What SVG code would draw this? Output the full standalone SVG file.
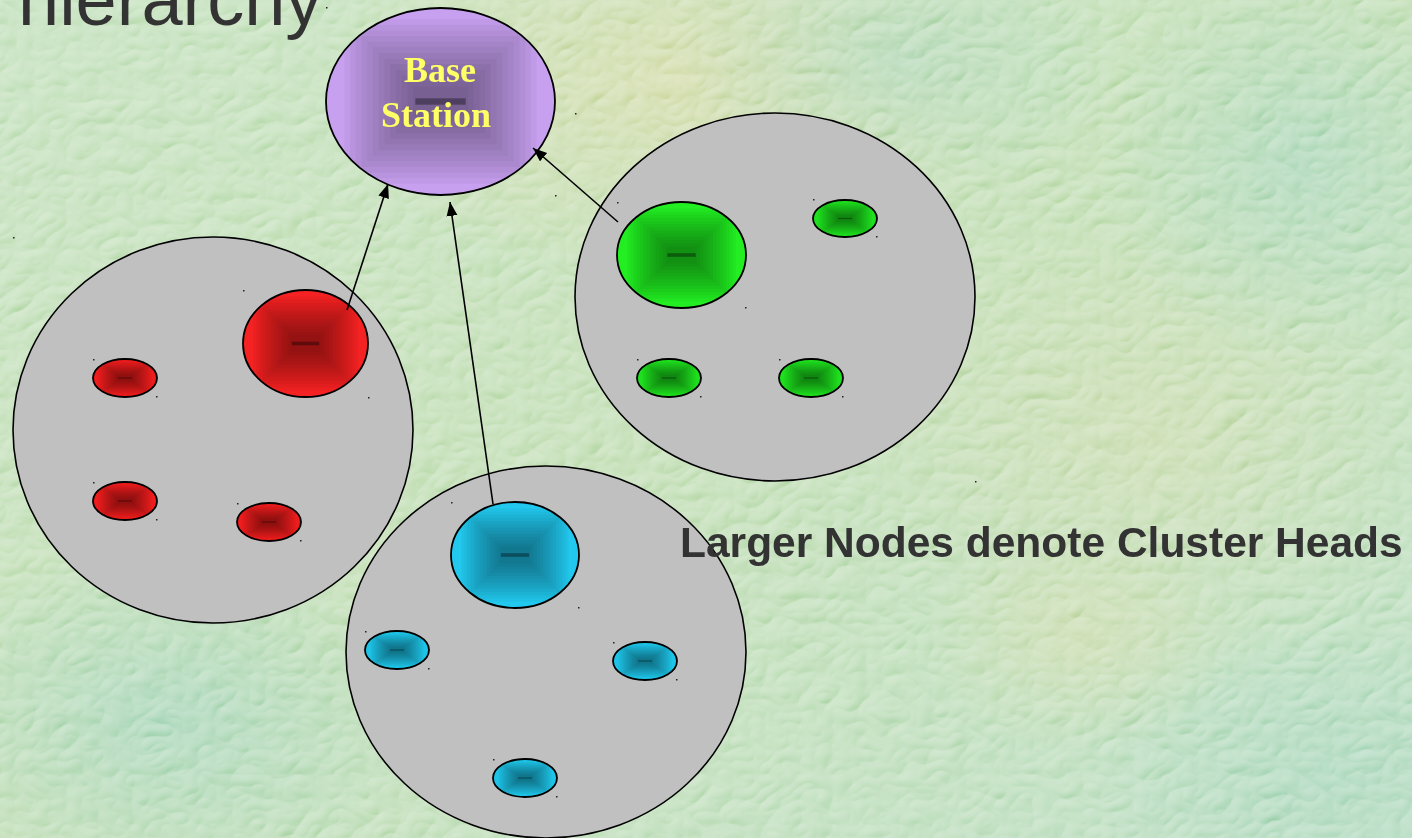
<svg xmlns="http://www.w3.org/2000/svg" xmlns:xlink="http://www.w3.org/1999/xlink" width="1412" height="838" viewBox="0 0 1412 838">
  <defs>
    <style>
      .cluster { fill: #c0c0c0; stroke: #000; stroke-width: 1.6; }
      .outline { fill: none; stroke: #000; stroke-width: 1.8; }
      .link { stroke: #000; stroke-width: 1.6; fill: none; marker-end: url(#arrow); }
      .title { font-family: "Liberation Sans", Arial, sans-serif; font-size: 74px; fill: #333; }
      .bs { font-family: "Liberation Serif", "Times New Roman", serif; font-weight: bold; font-size: 36px; fill: #ffff66; text-anchor: middle; }
      .note { font-family: "Liberation Sans", Arial, sans-serif; font-weight: bold; font-size: 42.5px; fill: #333; }
      .dot { fill: #222; }
    </style>

    <!-- colour wash for the backdrop -->
    <linearGradient id="bgBase" x1="0" y1="0" x2="1" y2="1">
      <stop offset="0" stop-color="#bfdfb8"/>
      <stop offset="0.5" stop-color="#bddcae"/>
      <stop offset="1" stop-color="#b4dbbc"/>
    </linearGradient>
    <radialGradient id="warm" cx="0.5" cy="0.5" r="0.5">
      <stop offset="0" stop-color="#d4daa2" stop-opacity="0.85"/>
      <stop offset="1" stop-color="#d4daa2" stop-opacity="0"/>
    </radialGradient>
    <radialGradient id="cool" cx="0.5" cy="0.5" r="0.5">
      <stop offset="0" stop-color="#9cd2b8" stop-opacity="0.75"/>
      <stop offset="1" stop-color="#9cd2b8" stop-opacity="0"/>
    </radialGradient>

    <!-- embossed leather-like grain -->
    <filter id="grain" x="0" y="0" width="100%" height="100%">
      <feTurbulence type="turbulence" baseFrequency="0.03 0.04" numOctaves="2" seed="7" result="n"/>
      <feDiffuseLighting in="n" surfaceScale="3" lighting-color="#ffffff" result="lit">
        <feDistantLight azimuth="235" elevation="35"/>
      </feDiffuseLighting>
    </filter>

    <marker id="arrow" markerUnits="userSpaceOnUse" markerWidth="15" markerHeight="12" refX="14" refY="5.5" orient="auto">
      <path d="M0,0 L14,5.5 L0,11 z" fill="#000"/>
    </marker>

    <!-- node body: base colour with stepped rectangular shading, scaled to each node's box -->
    <clipPath id="unitClip">
      <ellipse cx="50" cy="50" rx="50" ry="50"/>
    </clipPath>
    <symbol id="shade" viewBox="0 0 100 100" preserveAspectRatio="none">
      <g clip-path="url(#unitClip)">
        <rect x="0" y="0" width="100" height="100" fill="currentColor"/>
        <g fill="#000" fill-opacity="0.035">
          <rect x="8" y="6" width="84" height="88"/>
          <rect x="10.5" y="9" width="79" height="82"/>
          <rect x="13" y="12" width="74" height="76"/>
          <rect x="15.5" y="15" width="69" height="70"/>
          <rect x="18" y="18" width="64" height="64"/>
          <rect x="20.5" y="21" width="59" height="58"/>
          <rect x="23" y="24" width="54" height="52"/>
          <rect x="25.5" y="27" width="49" height="46"/>
          <rect x="28" y="30" width="44" height="40"/>
          <rect x="30.5" y="33" width="39" height="34"/>
          <rect x="33" y="36" width="34" height="28"/>
          <rect x="35.5" y="39" width="29" height="22"/>
          <rect x="38" y="42" width="24" height="16"/>
        </g>
        <rect x="39" y="48.3" width="22" height="3.4" fill="#000" fill-opacity="0.35"/>
      </g>
    </symbol>
  </defs>

  <!-- backdrop -->
  <g id="background">
    <rect width="1412" height="838" fill="url(#bgBase)"/>
    <ellipse cx="680" cy="80" rx="360" ry="200" fill="url(#warm)"/>
    <ellipse cx="1150" cy="440" rx="300" ry="240" fill="url(#warm)" opacity="0.55"/>
    <ellipse cx="1080" cy="640" rx="160" ry="110" fill="url(#warm)" opacity="0.6"/>
    <ellipse cx="170" cy="720" rx="260" ry="180" fill="url(#cool)"/>
    <ellipse cx="900" cy="60" rx="220" ry="140" fill="url(#cool)" opacity="0.7"/>
    <ellipse cx="1300" cy="160" rx="200" ry="200" fill="url(#cool)" opacity="0.8"/>
    <ellipse cx="1330" cy="770" rx="240" ry="150" fill="url(#cool)" opacity="0.8"/>
    <rect width="1412" height="838" filter="url(#grain)" opacity="0.4" style="mix-blend-mode:overlay"/>
  </g>

  <text class="title" x="18" y="25">hierarchy</text>

  <!-- red cluster -->
  <g id="cluster-red">
    <ellipse class="cluster" cx="213" cy="430" rx="200" ry="193"/>
    <g id="red-head">
      <use xlink:href="#shade" x="243" y="290" width="125" height="107" color="#f42222"/>
      <ellipse class="outline" cx="305.5" cy="343.5" rx="62.5" ry="53.5"/>
    </g>
    <g id="red-1">
      <use xlink:href="#shade" x="93" y="359" width="64" height="38" color="#ee1c1c"/>
      <ellipse class="outline" cx="125" cy="378" rx="32" ry="19"/>
    </g>
    <g id="red-2">
      <use xlink:href="#shade" x="93" y="482" width="64" height="38" color="#ee1c1c"/>
      <ellipse class="outline" cx="125" cy="501" rx="32" ry="19"/>
    </g>
    <g id="red-3">
      <use xlink:href="#shade" x="237" y="503" width="64" height="38" color="#ee1c1c"/>
      <ellipse class="outline" cx="269" cy="522" rx="32" ry="19"/>
    </g>
  </g>

  <!-- green cluster -->
  <g id="cluster-green">
    <ellipse class="cluster" cx="775" cy="297" rx="200" ry="184"/>
    <g id="green-head">
      <use xlink:href="#shade" x="617" y="202" width="129" height="106" color="#22ee22"/>
      <ellipse class="outline" cx="681.5" cy="255" rx="64.5" ry="53"/>
    </g>
    <g id="green-1">
      <use xlink:href="#shade" x="813" y="200" width="64" height="37" color="#1ee01e"/>
      <ellipse class="outline" cx="845" cy="218.5" rx="32" ry="18.5"/>
    </g>
    <g id="green-2">
      <use xlink:href="#shade" x="637" y="359" width="64" height="38" color="#1ee01e"/>
      <ellipse class="outline" cx="669" cy="378" rx="32" ry="19"/>
    </g>
    <g id="green-3">
      <use xlink:href="#shade" x="779" y="359" width="64" height="38" color="#1ee01e"/>
      <ellipse class="outline" cx="811" cy="378" rx="32" ry="19"/>
    </g>
  </g>

  <!-- blue cluster -->
  <g id="cluster-blue">
    <ellipse class="cluster" cx="546" cy="652" rx="200" ry="186"/>
    <g id="blue-head">
      <use xlink:href="#shade" x="451" y="502" width="128" height="106" color="#22c8ee"/>
      <ellipse class="outline" cx="515" cy="555" rx="64" ry="53"/>
    </g>
    <g id="blue-1">
      <use xlink:href="#shade" x="365" y="631" width="64" height="38" color="#1ec4e8"/>
      <ellipse class="outline" cx="397" cy="650" rx="32" ry="19"/>
    </g>
    <g id="blue-2">
      <use xlink:href="#shade" x="613" y="642" width="64" height="38" color="#1ec4e8"/>
      <ellipse class="outline" cx="645" cy="661" rx="32" ry="19"/>
    </g>
    <g id="blue-3">
      <use xlink:href="#shade" x="493" y="759" width="64" height="38" color="#1ec4e8"/>
      <ellipse class="outline" cx="525" cy="778" rx="32" ry="19"/>
    </g>
  </g>

  <!-- base station -->
  <g id="base-station">
    <use xlink:href="#shade" x="326" y="8" width="229" height="187" color="#c8a0f0"/>
    <ellipse class="outline" cx="440.5" cy="101.5" rx="114.5" ry="93.5"/>
    <text class="bs" x="440" y="82">Base</text>
    <text class="bs" x="436" y="127">Station</text>
  </g>

  <!-- cluster heads report to the base station -->
  <g id="connectors">
    <line class="link" x1="347" y1="310" x2="388" y2="184"/>
    <line class="link" x1="493" y1="504" x2="450" y2="202"/>
    <line class="link" x1="618" y1="222" x2="533" y2="148"/>
  </g>

  <!-- bounding-box corner ticks -->
  <g id="ticks" class="dot">
    <rect x="326" y="7" width="1.5" height="1.5"/>
    <rect x="555" y="195" width="1.5" height="1.5"/>
    <rect x="575" y="113" width="1.5" height="1.5"/>
    <rect x="975" y="481" width="1.5" height="1.5"/>
    <rect x="13" y="237" width="1.5" height="1.5"/>
    <rect x="243" y="290" width="1.5" height="1.5"/>
    <rect x="368" y="397" width="1.5" height="1.5"/>
    <rect x="93" y="359" width="1.5" height="1.5"/>
    <rect x="156" y="396" width="1.5" height="1.5"/>
    <rect x="93" y="482" width="1.5" height="1.5"/>
    <rect x="156" y="519" width="1.5" height="1.5"/>
    <rect x="237" y="503" width="1.5" height="1.5"/>
    <rect x="300" y="540" width="1.5" height="1.5"/>
    <rect x="617" y="202" width="1.5" height="1.5"/>
    <rect x="745" y="307" width="1.5" height="1.5"/>
    <rect x="813" y="199" width="1.5" height="1.5"/>
    <rect x="876" y="236" width="1.5" height="1.5"/>
    <rect x="637" y="359" width="1.5" height="1.5"/>
    <rect x="700" y="396" width="1.5" height="1.5"/>
    <rect x="779" y="359" width="1.5" height="1.5"/>
    <rect x="842" y="396" width="1.5" height="1.5"/>
    <rect x="451" y="502" width="1.5" height="1.5"/>
    <rect x="578" y="607" width="1.5" height="1.5"/>
    <rect x="365" y="631" width="1.5" height="1.5"/>
    <rect x="428" y="668" width="1.5" height="1.5"/>
    <rect x="613" y="642" width="1.5" height="1.5"/>
    <rect x="676" y="679" width="1.5" height="1.5"/>
    <rect x="493" y="759" width="1.5" height="1.5"/>
    <rect x="556" y="796" width="1.5" height="1.5"/>
  </g>

  <text class="note" x="680" y="557">Larger Nodes denote Cluster Heads</text>
</svg>
